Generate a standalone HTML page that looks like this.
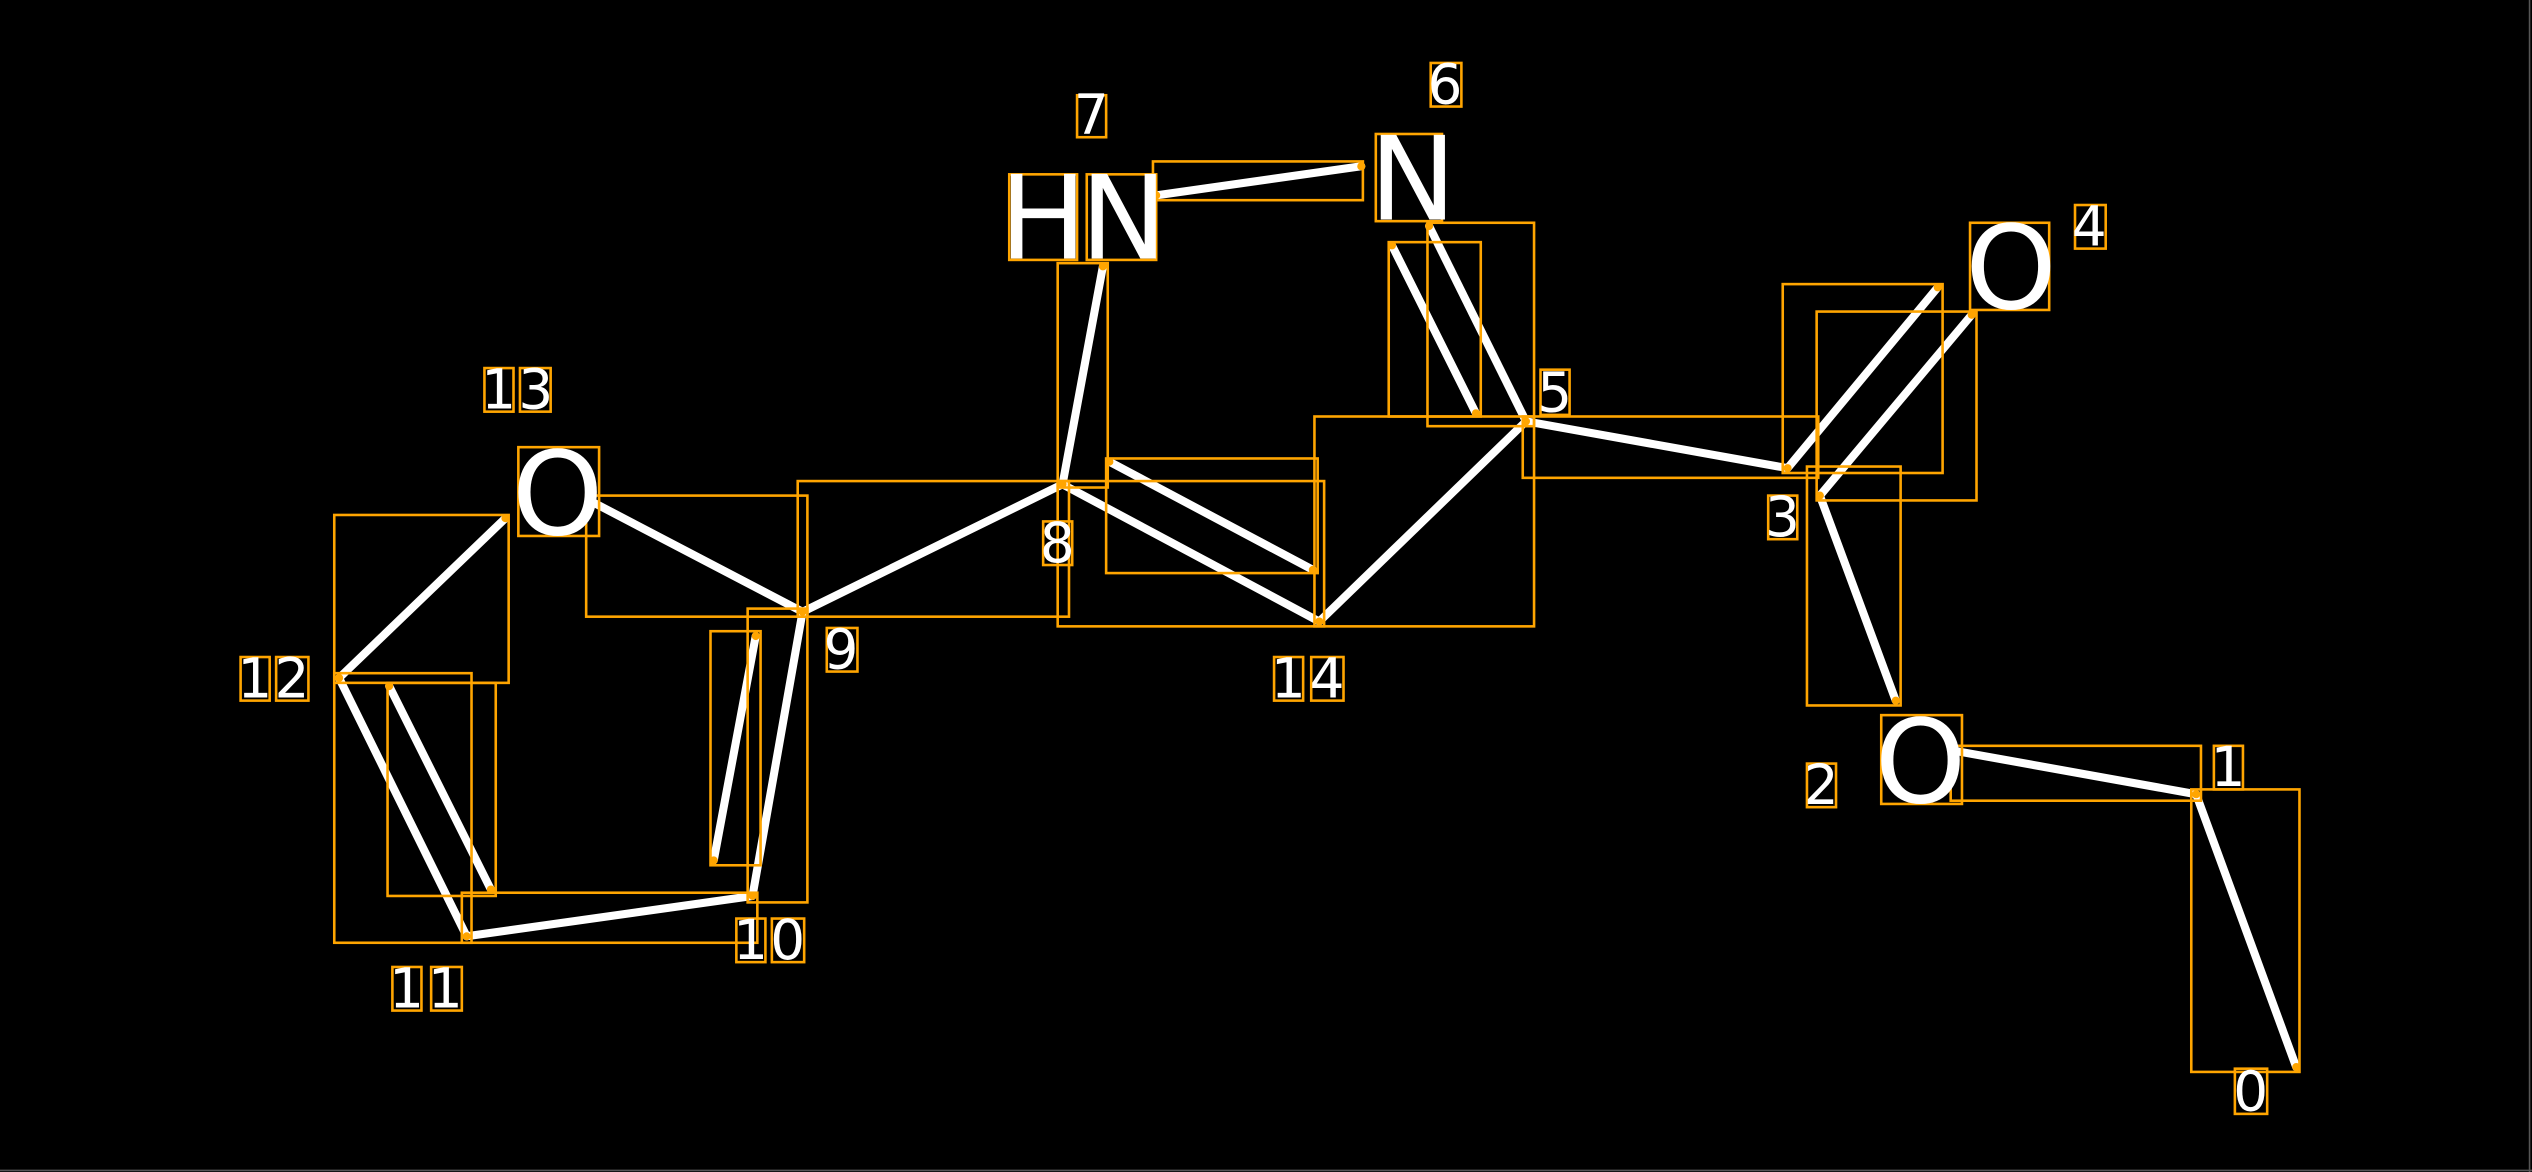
<!DOCTYPE html>
<html><head><meta charset="utf-8"><style>
html,body{margin:0;padding:0;background:#000;}
svg{display:block;}
text{font-family:"DejaVu Sans","Liberation Sans",sans-serif;fill:#fff;}
</style></head><body>
<svg width="2532" height="1172" viewBox="0 0 1568 726" preserveAspectRatio="none" xmlns="http://www.w3.org/2000/svg">
<rect width="1568" height="726" fill="#000"/>
<line x1="1566.5" y1="0" x2="1566.5" y2="726" stroke="#555" stroke-width="1"/>
<line x1="0" y1="725" x2="1568" y2="725" stroke="#555" stroke-width="1"/>
<g stroke="#fff" stroke-width="5" stroke-linecap="round">
<line x1="1422" y1="661" x2="1360" y2="492"/>
<line x1="1360" y1="492" x2="1210" y2="465"/>
<line x1="1174" y1="434" x2="1127" y2="307"/>
<line x1="1107" y1="290" x2="1200" y2="178"/>
<line x1="1127" y1="307" x2="1221" y2="195"/>
<line x1="1107" y1="290" x2="945" y2="261"/>
<line x1="945" y1="261" x2="885" y2="140"/>
<line x1="914" y1="256" x2="862" y2="152"/>
<line x1="843" y1="103" x2="716" y2="121"/>
<line x1="683" y1="165" x2="658" y2="300"/>
<line x1="658" y1="300" x2="817" y2="385"/>
<line x1="687" y1="286" x2="813" y2="353"/>
<line x1="817" y1="385" x2="945" y2="261"/>
<line x1="658" y1="300" x2="497" y2="379"/>
<line x1="497" y1="379" x2="365" y2="310"/>
<line x1="313" y1="321" x2="210" y2="420"/>
<line x1="210" y1="420" x2="289" y2="580"/>
<line x1="241" y1="425" x2="304" y2="551"/>
<line x1="289" y1="580" x2="466" y2="555"/>
<line x1="466" y1="555" x2="497" y2="379"/>
<line x1="442" y1="533" x2="468" y2="394"/>
</g>
<g fill="orange">
<circle cx="1422" cy="661" r="2.5"/><circle cx="1360" cy="492" r="2.5"/><circle cx="1210" cy="465" r="2.5"/>
<circle cx="1174" cy="434" r="2.5"/><circle cx="1127" cy="307" r="2.5"/><circle cx="1107" cy="290" r="2.5"/>
<circle cx="1200" cy="178" r="2.5"/><circle cx="1221" cy="195" r="2.5"/><circle cx="945" cy="261" r="2.5"/>
<circle cx="885" cy="140" r="2.5"/><circle cx="914" cy="256" r="2.5"/><circle cx="862" cy="152" r="2.5"/>
<circle cx="843" cy="103" r="2.5"/><circle cx="716" cy="121" r="2.5"/><circle cx="683" cy="165" r="2.5"/>
<circle cx="658" cy="300" r="2.5"/><circle cx="817" cy="385" r="2.5"/><circle cx="687" cy="286" r="2.5"/>
<circle cx="813" cy="353" r="2.5"/><circle cx="497" cy="379" r="2.5"/><circle cx="365" cy="310" r="2.5"/>
<circle cx="313" cy="321" r="2.5"/><circle cx="210" cy="420" r="2.5"/><circle cx="289" cy="580" r="2.5"/>
<circle cx="241" cy="425" r="2.5"/><circle cx="304" cy="551" r="2.5"/><circle cx="466" cy="555" r="2.5"/>
<circle cx="442" cy="533" r="2.5"/><circle cx="468" cy="394" r="2.5"/>
</g>
<g fill="none" stroke="orange" stroke-width="1.6">
<rect x="1357" y="489" width="67" height="175"/>
<rect x="1208" y="462" width="155" height="34"/>
<rect x="1119" y="289" width="58" height="148"/>
<rect x="1104" y="176" width="99" height="117"/>
<rect x="1125" y="193" width="99" height="117"/>
<rect x="943" y="258" width="183" height="38"/>
<rect x="884" y="138" width="66" height="126"/>
<rect x="860" y="150" width="57" height="108"/>
<rect x="714" y="100" width="130" height="24"/>
<rect x="655" y="163" width="31" height="139"/>
<rect x="655" y="298" width="165" height="90"/>
<rect x="685" y="284" width="131" height="71"/>
<rect x="814" y="258" width="136" height="130"/>
<rect x="494" y="298" width="168" height="84"/>
<rect x="363" y="307" width="137" height="75"/>
<rect x="207" y="319" width="108" height="104"/>
<rect x="207" y="417" width="85" height="167"/>
<rect x="240" y="423" width="67" height="132"/>
<rect x="286" y="553" width="183" height="31"/>
<rect x="463" y="377" width="37" height="182"/>
<rect x="440" y="391" width="31" height="145"/>
<rect x="1384" y="662" width="20" height="28"/>
<rect x="1371" y="462" width="18" height="27"/>
<rect x="1119" y="473" width="18" height="27"/>
<rect x="1095" y="307" width="18" height="27"/>
<rect x="1285" y="127" width="19" height="27"/>
<rect x="954" y="229" width="18" height="28"/>
<rect x="886" y="39" width="19" height="27"/>
<rect x="667" y="59" width="18" height="26"/>
<rect x="646" y="323" width="18" height="27"/>
<rect x="512" y="389" width="19" height="27"/>
<rect x="456" y="569" width="18" height="27"/><rect x="478" y="569" width="20" height="27"/>
<rect x="243" y="599" width="18" height="27"/><rect x="267" y="599" width="19" height="27"/>
<rect x="149" y="407" width="18" height="27"/><rect x="171" y="407" width="20" height="27"/>
<rect x="300" y="228" width="18" height="27"/><rect x="322" y="228" width="19" height="27"/>
<rect x="789" y="407" width="18" height="27"/><rect x="812" y="407" width="20" height="27"/>
<rect x="1220" y="138" width="49" height="54"/>
<rect x="1165" y="443" width="50" height="55"/>
<rect x="321" y="277" width="50" height="55"/>
<rect x="625" y="108" width="42" height="53"/>
<rect x="673" y="108" width="43" height="53"/>
<rect x="852" y="83" width="41" height="54"/>
</g>
<g font-size="34">
<text x="1383" y="688">0</text>
<text x="1369" y="487">1</text>
<text x="1117" y="498">2</text>
<text x="1093" y="332">3</text>
<text x="1283" y="152">4</text>
<text x="952" y="255">5</text>
<text x="884" y="64">6</text>
<text x="665" y="83">7</text>
<text x="644" y="348">8</text>
<text x="510" y="414">9</text>
<text x="454" y="594">1</text><text x="477" y="594">0</text>
<text x="241" y="624">1</text><text x="265" y="624">1</text>
<text x="147" y="432">1</text><text x="170" y="432">2</text>
<text x="298" y="253">1</text><text x="321" y="253">3</text>
<text x="787" y="432">1</text><text x="811" y="432">4</text>
</g>
<g font-size="72">
<text x="1217" y="191">O</text>
<text x="1161" y="497">O</text>
<text x="317" y="331">O</text>
<text x="619" y="160">H</text>
<text x="669" y="160">N</text>
<text x="848" y="136">N</text>
</g>
</svg>
</body></html>
